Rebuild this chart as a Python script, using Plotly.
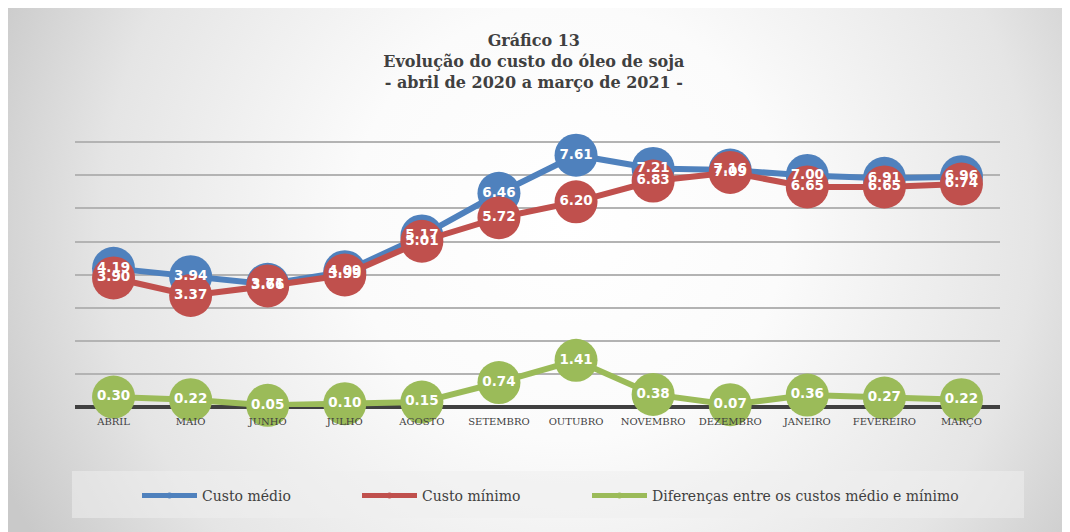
import base64
import plotly.graph_objects as go

# dados
meses = ["ABRIL", "MAIO", "JUNHO", "JULHO", "AGOSTO", "SETEMBRO", "OUTUBRO",
         "NOVEMBRO", "DEZEMBRO", "JANEIRO", "FEVEREIRO", "MARÇO"]
custo_medio = [4.19, 3.94, 3.71, 4.09, 5.17, 6.46, 7.61, 7.21, 7.16, 7.00, 6.91, 6.96]
custo_minimo = [3.90, 3.37, 3.66, 3.99, 5.01, 5.72, 6.20, 6.83, 7.09, 6.65, 6.65, 6.74]
diferencas = [0.30, 0.22, 0.05, 0.10, 0.15, 0.74, 1.41, 0.38, 0.07, 0.36, 0.27, 0.22]

nomes = ["Custo médio", "Custo mínimo", "Diferenças entre os custos médio e mínimo"]
cores = ["#4f81bd", "#c0504d", "#9bbb59"]
series = [custo_medio, custo_minimo, diferencas]

# a página tem 8px de margem; a figura ocupa o resto
W, H = 1058, 524
L, R, T, B = 67, 66, 131, 125
pw, ph = W - L - R, H - T - B


def px_x(p):
    return (p - L) / pw


def px_y(p):
    return (H - B - p) / ph


# fundo com degradê radial
svg = """<svg xmlns="http://www.w3.org/2000/svg" width="1058" height="524" viewBox="0 0 1058 524" preserveAspectRatio="none">
<defs><radialGradient id="g" gradientUnits="userSpaceOnUse" cx="560" cy="215" r="620">
<stop offset="0" stop-color="#ffffff"/><stop offset="0.35" stop-color="#fbfbfb"/>
<stop offset="0.75" stop-color="#e5e5e5"/><stop offset="1" stop-color="#c9c9c9"/>
</radialGradient></defs><rect width="1058" height="524" fill="url(#g)"/></svg>"""
src = "data:image/svg+xml;base64," + base64.b64encode(svg.encode()).decode()

fig = go.Figure()

for nome, cor, vals in zip(nomes, cores, series):
    fig.add_trace(go.Scatter(
        x=meses, y=vals, mode="lines+markers", name=nome, showlegend=False,
        line=dict(color=cor, width=6),
        marker=dict(color=cor, size=43),
        cliponaxis=False, hoverinfo="skip"))

# rótulos por cima de todos os marcadores
for vals in series:
    fig.add_trace(go.Scatter(
        x=meses, y=vals, mode="text", showlegend=False,
        text=[f"{v:.2f}" for v in vals], textposition="middle center",
        textfont=dict(family="DejaVu Sans", size=13.5, color="white", weight="bold"),
        cliponaxis=False, hoverinfo="skip"))

# entradas da legenda
leg_x = [143, 363, 593]
leg_ids = ["legend", "legend2", "legend3"]
for nome, cor, lid in zip(nomes, cores, leg_ids):
    fig.add_trace(go.Scatter(
        x=[None], y=[None], mode="lines+markers", name=nome, legend=lid,
        line=dict(color=cor, width=5), marker=dict(color=cor, size=6)))

legs = {}
for lid, xp in zip(leg_ids, leg_x):
    legs[lid] = dict(
        x=(xp - 14) / W, xanchor="left", xref="container",
        y=1 - 488 / H, yanchor="middle", yref="container",
        orientation="h", bgcolor="rgba(0,0,0,0)", itemwidth=55,
        font=dict(family="DejaVu Serif", size=14, color="#404040"))

fig.update_layout(
    width=W, height=H,
    margin=dict(l=L, r=R, t=T, b=B, autoexpand=False),
    paper_bgcolor="#e6e6e6", plot_bgcolor="rgba(0,0,0,0)",
    title=dict(
        text="Gráfico 13<br>Evolução do custo do óleo de soja<br>- abril de 2020 a março de 2021 -",
        x=0.497, xanchor="center", xref="container",
        y=1 - 38 / H, yanchor="top", yref="container",
        font=dict(family="DejaVu Serif", size=16, color="#404040", weight="bold")),
    xaxis=dict(
        range=[-0.5, 11.5], showgrid=False, showline=False, ticks="", zeroline=False,
        ticklabelstandoff=7,
        tickfont=dict(family="DejaVu Serif", size=10, color="#404040")),
    yaxis=dict(
        range=[0, 8.1], dtick=1, showticklabels=False, ticks="",
        gridcolor="#b3b3b3", gridwidth=1.5,
        zeroline=True, zerolinecolor="#404040", zerolinewidth=4),
    images=[dict(
        source=src, xref="paper", yref="paper",
        x=px_x(0), y=px_y(0), sizex=W / pw, sizey=H / ph,
        xanchor="left", yanchor="top", sizing="stretch", layer="below")],
    shapes=[dict(
        type="rect", xref="paper", yref="paper",
        x0=px_x(64), x1=px_x(1016), y0=px_y(510), y1=px_y(463),
        fillcolor="rgba(238,238,238,0.55)", line=dict(width=0), layer="below")],
    **legs,
)

fig.write_html("out.html")
